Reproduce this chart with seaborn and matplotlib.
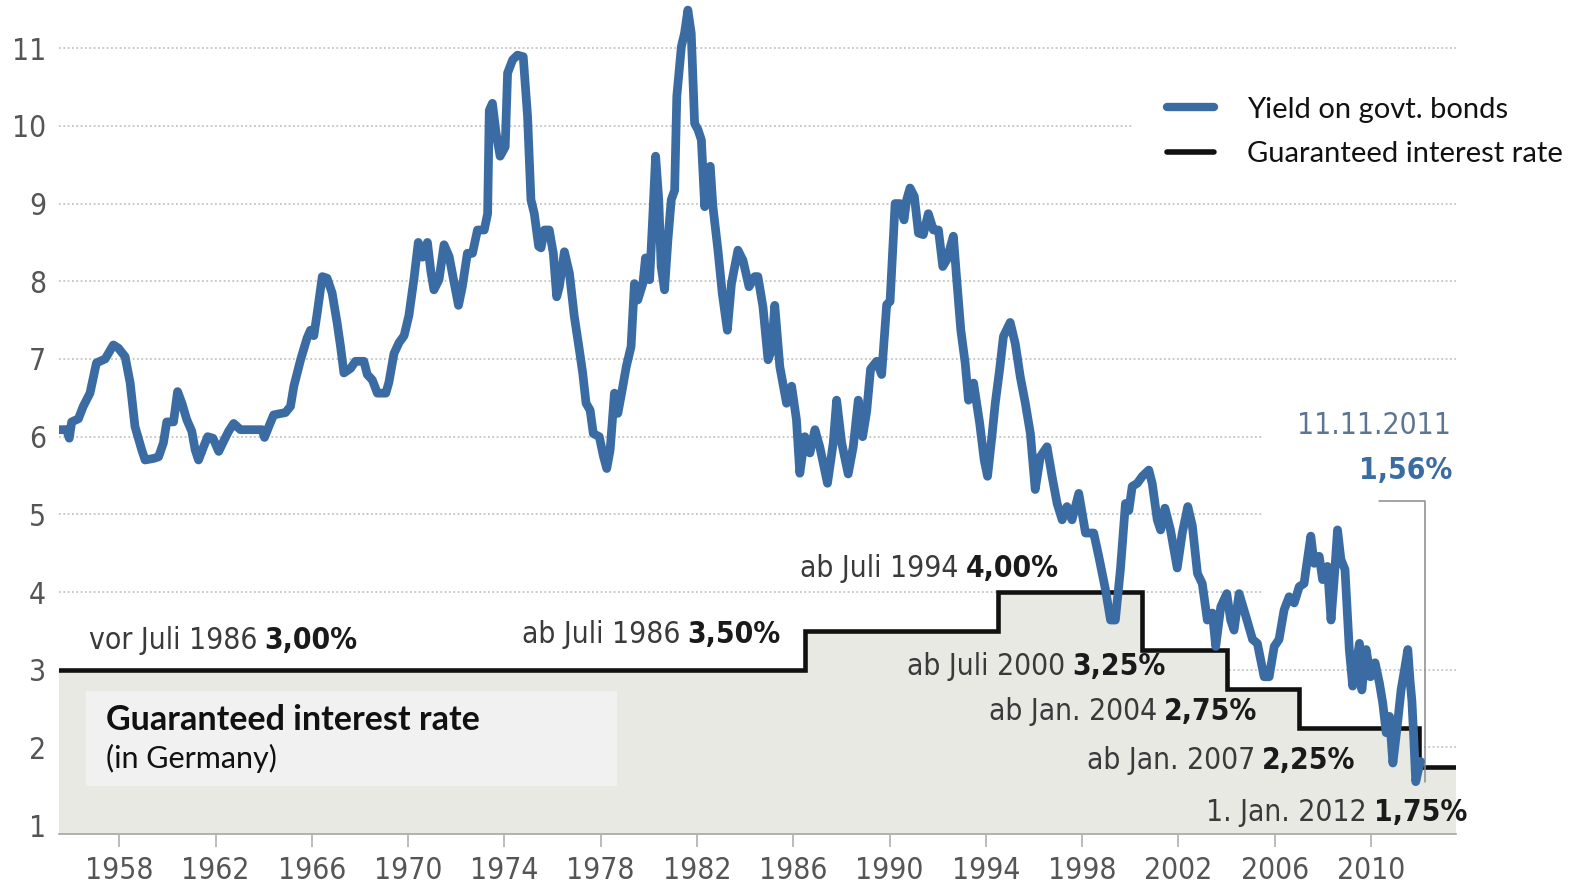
import matplotlib
matplotlib.use("Agg")
import matplotlib.pyplot as plt
from matplotlib.lines import Line2D
from matplotlib.patches import Rectangle
import seaborn as sns

# ---- data -------------------------------------------------------------
# Yield on government bonds (%), by decimal year
bond_years = [
    1955.39, 1955.81, 1955.92, 1956.02, 1956.30, 1956.50, 1956.78, 1957.05, 1957.41, 1957.75,
    1957.96, 1958.24, 1958.45, 1958.65, 1958.93, 1959.07, 1959.42, 1959.63, 1959.83, 1959.97,
    1960.25, 1960.42, 1960.60, 1960.80, 1961.01, 1961.15, 1961.29, 1961.50, 1961.67, 1961.89,
    1962.13, 1962.33, 1962.54, 1962.75, 1963.03, 1963.58, 1963.93, 1964.03, 1964.21, 1964.41,
    1964.90, 1965.11, 1965.25, 1965.53, 1965.80, 1965.94, 1966.08, 1966.22, 1966.43, 1966.63,
    1966.84, 1967.05, 1967.19, 1967.33, 1967.61, 1967.81, 1968.16, 1968.30, 1968.51, 1968.72,
    1969.07, 1969.20, 1969.41, 1969.62, 1969.83, 1970.03, 1970.24, 1970.42, 1970.59, 1970.80,
    1970.94, 1971.07, 1971.28, 1971.49, 1971.70, 1971.91, 1972.09, 1972.25, 1972.46, 1972.67,
    1972.88, 1973.16, 1973.30, 1973.37, 1973.50, 1973.65, 1973.82, 1974.03, 1974.13, 1974.34,
    1974.54, 1974.78, 1974.96, 1975.10, 1975.24, 1975.42, 1975.52, 1975.66, 1975.86, 1976.03,
    1976.17, 1976.28, 1976.49, 1976.70, 1976.90, 1977.11, 1977.25, 1977.39, 1977.56, 1977.69,
    1977.94, 1978.11, 1978.25, 1978.39, 1978.57, 1978.71, 1978.89, 1979.06, 1979.26, 1979.40,
    1979.54, 1979.75, 1979.86, 1980.03, 1980.16, 1980.28, 1980.41, 1980.51, 1980.65, 1980.79,
    1980.93, 1981.07, 1981.16, 1981.35, 1981.48, 1981.62, 1981.76, 1981.90, 1982.04, 1982.18,
    1982.32, 1982.41, 1982.55, 1982.66, 1982.87, 1983.05, 1983.26, 1983.43, 1983.70, 1983.91,
    1984.16, 1984.40, 1984.53, 1984.74, 1984.95, 1985.10, 1985.23, 1985.44, 1985.72, 1985.93,
    1986.13, 1986.27, 1986.48, 1986.69, 1986.90, 1987.10, 1987.42, 1987.66, 1987.80, 1988.01,
    1988.28, 1988.49, 1988.70, 1988.88, 1989.05, 1989.21, 1989.46, 1989.67, 1989.88, 1990.02,
    1990.23, 1990.43, 1990.60, 1990.71, 1990.85, 1991.03, 1991.20, 1991.40, 1991.61, 1991.82,
    1992.03, 1992.21, 1992.38, 1992.65, 1992.79, 1992.96, 1993.14, 1993.28, 1993.49, 1993.74,
    1993.93, 1994.07, 1994.25, 1994.39, 1994.57, 1994.73, 1995.01, 1995.22, 1995.43, 1995.64,
    1995.85, 1996.05, 1996.26, 1996.54, 1996.75, 1996.96, 1997.17, 1997.37, 1997.58, 1997.86,
    1998.14, 1998.48, 1998.69, 1998.97, 1999.18, 1999.38, 1999.59, 1999.80, 1999.94, 2000.08,
    2000.29, 2000.50, 2000.77, 2000.91, 2001.12, 2001.26, 2001.44, 2001.67, 2001.95, 2002.16,
    2002.39, 2002.58, 2002.79, 2002.99, 2003.20, 2003.41, 2003.55, 2003.76, 2004.01, 2004.17,
    2004.31, 2004.52, 2004.80, 2005.08, 2005.28, 2005.56, 2005.77, 2005.98, 2006.18, 2006.39,
    2006.60, 2006.81, 2007.02, 2007.22, 2007.30, 2007.50, 2007.64, 2007.85, 2007.99, 2008.19,
    2008.34, 2008.47, 2008.61, 2008.75, 2008.92, 2009.10, 2009.24, 2009.38, 2009.52, 2009.62,
    2009.80, 2009.98, 2010.17, 2010.35, 2010.49, 2010.63, 2010.77, 2010.91, 2011.09, 2011.25,
    2011.42, 2011.53, 2011.62, 2011.70, 2011.78, 2011.86, 2011.96, 2012.06,
]
bond_yield = [
    6.09, 6.09, 5.98, 6.19, 6.23, 6.39, 6.56, 6.95, 7.00, 7.18,
    7.14, 7.03, 6.69, 6.13, 5.83, 5.70, 5.72, 5.74, 5.92, 6.19,
    6.19, 6.58, 6.43, 6.22, 6.07, 5.83, 5.70, 5.87, 6.00, 5.98,
    5.81, 5.94, 6.07, 6.17, 6.09, 6.09, 6.09, 5.99, 6.13, 6.28,
    6.31, 6.39, 6.65, 6.99, 7.27, 7.37, 7.30, 7.59, 8.06, 8.04,
    7.85, 7.46, 7.16, 6.82, 6.88, 6.97, 6.97, 6.80, 6.73, 6.56,
    6.56, 6.70, 7.07, 7.21, 7.30, 7.56, 8.03, 8.50, 8.31, 8.50,
    8.13, 7.89, 8.02, 8.47, 8.32, 7.98, 7.69, 7.93, 8.36, 8.36,
    8.66, 8.66, 8.87, 10.20, 10.29, 9.91, 9.61, 9.73, 10.68, 10.85,
    10.91, 10.89, 10.12, 9.05, 8.87, 8.45, 8.43, 8.66, 8.66, 8.36,
    7.80, 7.93, 8.38, 8.10, 7.55, 7.12, 6.82, 6.43, 6.34, 6.04,
    6.00, 5.75, 5.59, 5.83, 6.56, 6.30, 6.60, 6.90, 7.16, 7.97,
    7.76, 7.97, 8.30, 8.02, 8.82, 9.61, 9.05, 8.19, 7.89, 8.53,
    9.05, 9.17, 10.38, 11.02, 11.19, 11.49, 11.19, 10.03, 9.95, 9.82,
    8.96, 9.39, 9.48, 8.96, 8.40, 7.84, 7.37, 7.97, 8.40, 8.27,
    7.93, 8.06, 8.06, 7.67, 6.99, 7.12, 7.69, 6.90, 6.43, 6.65,
    6.22, 5.53, 6.00, 5.79, 6.09, 5.87, 5.40, 5.92, 6.47, 5.92,
    5.52, 5.87, 6.47, 6.00, 6.33, 6.87, 6.97, 6.80, 7.70, 7.74,
    9.00, 9.00, 8.79, 9.05, 9.20, 9.09, 8.62, 8.60, 8.87, 8.66,
    8.66, 8.19, 8.28, 8.58, 8.02, 7.37, 6.95, 6.47, 6.69, 6.18,
    5.70, 5.49, 6.00, 6.43, 6.86, 7.29, 7.47, 7.20, 6.77, 6.43,
    6.04, 5.32, 5.74, 5.87, 5.49, 5.14, 4.93, 5.10, 4.93, 5.27,
    4.76, 4.76, 4.46, 4.03, 3.64, 3.64, 4.29, 5.14, 5.05, 5.36,
    5.40, 5.49, 5.57, 5.40, 4.93, 4.80, 5.08, 4.80, 4.31, 4.76,
    5.10, 4.85, 4.24, 4.11, 3.64, 3.73, 3.30, 3.81, 3.98, 3.64,
    3.51, 3.98, 3.69, 3.39, 3.34, 2.91, 2.91, 3.30, 3.39, 3.77,
    3.94, 3.86, 4.07, 4.11, 4.29, 4.72, 4.37, 4.46, 4.16, 4.33,
    3.64, 4.16, 4.80, 4.42, 4.29, 3.26, 2.79, 3.05, 3.34, 2.74,
    3.26, 2.91, 3.09, 2.83, 2.57, 2.19, 2.40, 1.80, 2.27, 2.74,
    3.05, 3.26, 2.87, 2.60, 2.10, 1.56, 1.70, 1.82,
]

# Guaranteed interest rate (%) and the date each level took effect
rate_start = [1955.0, 1986.5, 1994.5, 2000.5, 2004.0, 2007.0, 2012.0]
rate_value = [3.00, 3.50, 4.00, 3.25, 2.75, 2.25, 1.75]
rate_text = ["vor Juli 1986", "ab Juli 1986", "ab Juli 1994", "ab Juli 2000",
             "ab Jan. 2004", "ab Jan. 2007", "1. Jan. 2012"]
rate_pct = ["3,00%", "3,50%", "4,00%", "3,25%", "2,75%", "2,25%", "1,75%"]

low_date_text = "11.11.2011"
low_pct_text = "1,56%"
low_date = 2011.86
low_value = 1.56

year_ticks = list(range(1958, 2011, 4))
value_ticks = list(range(1, 12))

series_names = ["Yield on govt. bonds", "Guaranteed interest rate"]
box_title = "Guaranteed interest rate"
box_sub = "(in Germany)"

# ---- layout / style ---------------------------------------------------
X_MIN, X_MAX = 1955.48, 2013.53
Y_MIN, Y_MAX = 0.88, 11.62
BLUE = "#3a6ca3"
FILL = "#e9e9e3"
BOX = "#f1f1f1"
GRID = "#c4c4c4"
COND = dict(family="DejaVu Sans", stretch="condensed")
HUMAN = ["Lato", "DejaVu Sans"]
FS = 21.5

# label anchors (x, baseline y, alignment) for the rate annotations
label_anchor = [(1956.74, 3.27, "left"), (1985.47, 3.35, "right"),
                (1997.02, 4.19, "right"), (2001.47, 2.93, "right"),
                (2005.29, 2.35, "right"), (2009.36, 1.72, "right"),
                (2014.00, 1.06, "right")]

sns.set_theme(style="white")
plt.rcParams["font.family"] = ["DejaVu Sans"]

fig = plt.figure(figsize=(15.86, 8.84), dpi=100)
ax = fig.add_axes([0.037, 0.056, 0.881, 0.944])
ax.set_xlim(X_MIN, X_MAX)
ax.set_ylim(Y_MIN, Y_MAX)

# guaranteed rate as a step line with a filled area underneath
step_x = rate_start + [X_MAX]
step_y = rate_value + [rate_value[-1]]
ax.fill_between(step_x, step_y, Y_MIN - 1, step="post", color=FILL,
                linewidth=0, zorder=1)
sns.lineplot(x=step_x, y=step_y, ax=ax, color="#111111", linewidth=3.3,
             drawstyle="steps-post", zorder=3, solid_joinstyle="miter")

# info box in the filled area
ax.add_patch(Rectangle((1956.62, 1.50), 22.05, 1.23, color=BOX, zorder=2,
                       linewidth=0))
ax.text(1957.45, 2.36, box_title, fontsize=24.5, fontweight="bold",
        family=HUMAN, color="#111111", va="center", zorder=3)
ax.text(1957.45, 1.86, box_sub, fontsize=22, family=HUMAN,
        color="#111111", va="center", zorder=3)

# white backdrop behind the date label (hides gridlines there)
ax.add_patch(Rectangle((2005.5, 3.9), X_MAX - 2005.5, 2.6, color="white",
                       zorder=0.8, linewidth=0))

# bond yield line
sns.lineplot(x=bond_years, y=bond_yield, ax=ax, color=BLUE, linewidth=6.3,
             zorder=4, solid_joinstyle="round", solid_capstyle="round")

# grid, spines, ticks
ax.set_axisbelow(True)
ax.yaxis.grid(True, color=GRID, linestyle=(0, (1, 1.4)), linewidth=1.3)
ax.xaxis.grid(False)
for s in ["left", "right", "top"]:
    ax.spines[s].set_visible(False)
ax.spines["bottom"].set_color("#a8a8a8")
ax.spines["bottom"].set_linewidth(1.2)
ax.spines["bottom"].set_zorder(3)

ax.set_xticks(year_ticks)
ax.set_xticklabels([str(y) for y in year_ticks])
ax.set_yticks(value_ticks)
ax.set_yticklabels([str(v) for v in value_ticks])
ax.tick_params(axis="x", direction="out", length=9.5, width=1.1,
               color="#a8a8a8", pad=6, labelsize=FS, labelcolor="#555555",
               bottom=True)
ax.tick_params(axis="y", length=0, pad=9, labelsize=FS, labelcolor="#555555")
for lab in ax.get_xticklabels() + ax.get_yticklabels():
    lab.set_fontstretch("condensed")
    lab.set_family("DejaVu Sans")
ax.set_xlabel("")
ax.set_ylabel("")

# rate annotations: regular text followed by the bold percentage
renderer = fig.canvas.get_renderer()
inv = ax.transData.inverted()
GAP = 7
for txt, pct, (x, y, align) in zip(rate_text, rate_pct, label_anchor):
    if align == "right":
        tb = ax.text(x, y, pct, ha="right", va="baseline", fontsize=FS,
                     fontweight="bold", color="#1a1a1a", zorder=5, **COND)
        bb = tb.get_window_extent(renderer)
        xl = inv.transform((bb.x0 - GAP, 0))[0]
        ax.text(xl, y, txt, ha="right", va="baseline", fontsize=FS,
                color="#3a3a3a", zorder=5, **COND)
    else:
        tn = ax.text(x, y, txt, ha="left", va="baseline", fontsize=FS,
                     color="#3a3a3a", zorder=5, **COND)
        bb = tn.get_window_extent(renderer)
        xr = inv.transform((bb.x1 + GAP, 0))[0]
        ax.text(xr, y, pct, ha="left", va="baseline", fontsize=FS,
                fontweight="bold", color="#1a1a1a", zorder=5, **COND)

# record low callout
ax.text(2013.32, 6.04, low_date_text, ha="right", va="baseline", fontsize=FS,
        color="#5d7590", zorder=5, **COND)
ax.text(2013.40, 5.46, low_pct_text, ha="right", va="baseline", fontsize=FS,
        fontweight="bold", color=BLUE, zorder=5, **COND)
ax.plot([2010.33, low_date + 0.4, low_date + 0.4], [5.17, 5.17, low_value],
        color="#8a8a8a", linewidth=1.1, zorder=3.5)

# legend
handles = [Line2D([], [], color=BLUE, linewidth=6.0, solid_capstyle="round"),
           Line2D([], [], color="#111111", linewidth=4.0, solid_capstyle="round")]
leg = ax.legend(handles, series_names, loc="center left",
                bbox_to_anchor=(0.7047, 0.851), bbox_transform=fig.transFigure,
                frameon=True, facecolor="white", edgecolor="none", framealpha=1,
                fancybox=False, prop=dict(family=HUMAN, size=21),
                handlelength=1.6, handletextpad=1.13, labelspacing=0.62,
                borderpad=1.2)
for t in leg.get_texts():
    t.set_color("#111111")

fig.savefig("out.png", dpi=100, facecolor="white")
